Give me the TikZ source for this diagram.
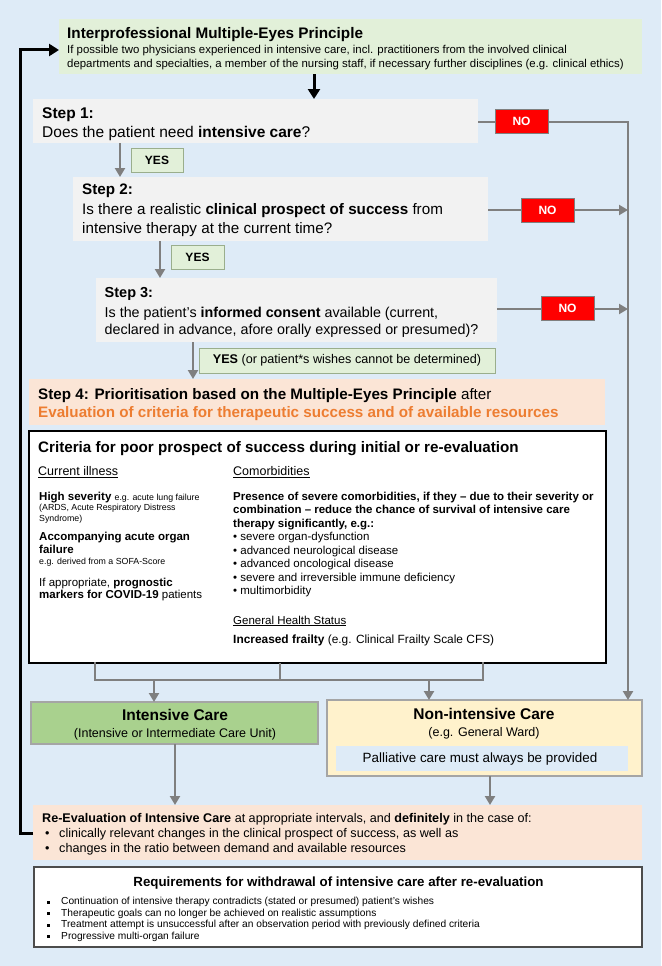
\documentclass[tikz,border=0pt]{standalone}
\usepackage{fontspec}
\setmainfont{Liberation Sans}
\usetikzlibrary{arrows.meta}
\definecolor{bg}{HTML}{DEEBF7}
\definecolor{topgreen}{HTML}{E2F0D9}
\definecolor{stepgray}{HTML}{F2F2F2}
\definecolor{yesfill}{HTML}{E2F0D9}
\definecolor{yesborder}{HTML}{9AAE8C}
\definecolor{nored}{HTML}{FF0000}
\definecolor{peach}{HTML}{FBE5D6}
\definecolor{orangetext}{HTML}{ED7D31}
\definecolor{icgreen}{HTML}{A9D18E}
\definecolor{nicyellow}{HTML}{FFF2CC}
\definecolor{arrowgray}{HTML}{7F7F7F}
\definecolor{boxborder}{HTML}{A5A5A5}
\newcommand\fs[2]{\fontsize{#1}{#2}\selectfont}
\newcommand\bx[7]{\node[box,#2,minimum width=#5-#3,minimum height=#6-#4] (#1) at (#3,#4) {#7};}
\newcommand\cb{\fs{11.5}{13.5}}
\newcommand\cs{\fs{8.8}{10.5}}
\begin{document}
\begin{tikzpicture}[x=1pt,y=-1pt,
  box/.style={inner sep=0pt,outer sep=0pt,anchor=north west},
  txt/.style={inner sep=0pt,anchor=base west},
  ctxt/.style={inner sep=0pt,anchor=base},
  garrow/.style={draw=arrowgray,line width=2.5pt,-{Triangle[width=10pt,length=9pt]}},
  gline/.style={draw=arrowgray,line width=2.5pt},
  barrow/.style={draw=black,line width=3pt,-{Triangle[width=12pt,length=10pt]}},
  nobox/.style={fill=nored,draw=arrowgray,line width=1pt,minimum width=53pt,minimum height=24pt,inner sep=0pt,text=white,font=\fs{12}{14}\bfseries},
  yesbox/.style={fill=yesfill,draw=yesborder,line width=1pt,minimum height=24pt,inner sep=0pt,font=\fs{12}{14}},
]
\useasboundingbox (0,0) rectangle (661,966);
\fill[bg] (0,0) rectangle (661,966);

% top box
\bx{top}{fill=topgreen}{59}{19}{642}{74}{}
\node[txt] (toptitle) at (67,38.5) {\fs{15.3}{18}\bfseries Interprofessional Multiple-Eyes Principle};
\node[txt] (topl1) at (67,53) {\fs{11.4}{14}If possible two physicians experienced in intensive care, incl. practitioners from the involved clinical};
\node[txt] (topl2) at (67,67) {\fs{11.4}{14}departments and specialties, a member of the nursing staff, if necessary further disciplines (e.g. clinical ethics)};

% step 1
\bx{s1}{fill=stepgray}{33}{99}{478}{143}{}
\node[txt] (s1a) at (42,118.5) {\fs{15.5}{19}\bfseries Step 1:};
\node[txt] (s1b) at (42,137.5) {\fs{15.5}{19}Does the patient need \textbf{intensive care}?};
\node[nobox] (no1) at (521.5,121) {NO};

% step 2
\bx{s2}{fill=stepgray}{73}{177}{488}{241}{}
\node[txt] (s2a) at (82,194.5) {\fs{15.2}{19}\bfseries Step 2:};
\node[txt] (s2b) at (82,214.5) {\fs{15.2}{19}Is there a realistic \textbf{clinical prospect of success} from};
\node[txt] (s2c) at (82,233.5) {\fs{15.2}{19}intensive therapy at the current time?};
\node[nobox] (no2) at (547.5,210) {NO};
\node[yesbox,minimum width=52pt] (yes1) at (157,160) {\bfseries YES};

% step 3
\bx{s3}{fill=stepgray}{96}{278}{497}{342}{}
\node[txt] (s3a) at (104.5,297.5) {\fs{14.5}{18}\bfseries Step 3:};
\node[txt] (s3b) at (104.5,317) {\fs{14.3}{18}Is the patient’s \textbf{informed consent} available (current,};
\node[txt] (s3c) at (104.5,334.5) {\fs{14.3}{18}declared in advance, afore orally expressed or presumed)?};
\node[nobox] (no3) at (567.5,308) {NO};
\node[yesbox,minimum width=53pt] (yes2) at (197.5,257.5) {\bfseries YES};
\node[yesbox,minimum width=296pt,minimum height=25pt,font=\fs{12.6}{14}] (yes3) at (347,360.5) {\textbf{YES} (or patient*s wishes cannot be determined)};

% step 4
\bx{s4}{fill=peach}{29}{379}{605}{425}{}
\node[txt] (s4a) at (38,399.5) {\fs{15.2}{18}\textbf{Step 4: Prioritisation based on the Multiple-Eyes Principle} after};
\node[txt,text=orangetext] (s4b) at (38,417.5) {\fs{15.2}{18}\bfseries Evaluation of criteria for therapeutic success and of available resources};

% criteria
\bx{crit}{fill=white,draw=black,line width=1.5pt}{29}{431}{606}{663}{}
\node[txt] (crtitle) at (38,452) {\fs{15.2}{19}\bfseries Criteria for poor prospect of success during initial or re-evaluation};
\node[txt] (curill) at (38,475.5) {\fs{12.5}{14}\underline{Current illness}};
\node[txt] (comorb) at (233,475.5) {\fs{12.5}{14}\underline{Comorbidities}};
\node[txt] (l1) at (39,500.5) {\cb\textbf{High severity} {\cs e.g. acute lung failure}};
\node[txt] (l2) at (39,510.5) {\cs(ARDS, Acute Respiratory Distress};
\node[txt] (l3) at (39,521.5) {\cs Syndrome)};
\node[txt] (l4) at (39,540.5) {\cb\bfseries Accompanying acute organ};
\node[txt] (l5) at (39,553.5) {\cb\bfseries failure};
\node[txt] (l6) at (39,564.5) {\cs e.g. derived from a SOFA-Score};
\node[txt] (l7) at (39,586.5) {\cb If appropriate, \textbf{prognostic}};
\node[txt] (l8) at (39,598.5) {\cb\textbf{markers for COVID-19} patients};
\node[txt] (r1) at (233,500.5) {\cb\bfseries Presence of severe comorbidities, if they – due to their severity or};
\node[txt] (r2) at (233,513.5) {\cb\bfseries combination – reduce the chance of survival of intensive care};
\node[txt] (r3) at (233,527.5) {\cb\bfseries therapy significantly, e.g.:};
\node[txt] (r4) at (233,540.5) {\cb• severe organ-dysfunction};
\node[txt] (r5) at (233,554) {\cb• advanced neurological disease};
\node[txt] (r6) at (233,567.5) {\cb• advanced oncological disease};
\node[txt] (r7) at (233,581) {\cb• severe and irreversible immune deficiency};
\node[txt] (r8) at (233,594.5) {\cb• multimorbidity};
\node[txt] (ghs) at (233,624) {\fs{11.5}{14}\underline{General Health Status}};
\node[txt] (frail) at (233,643) {\fs{11.9}{14}\textbf{Increased frailty} (e.g. Clinical Frailty Scale CFS)};

% outcome boxes
\bx{ic}{fill=icgreen,draw=boxborder,line width=1.2pt}{31}{702}{318}{744}{}
\node[ctxt] (ict) at (175,720.5) {\fs{15.5}{18}\bfseries Intensive Care};
\node[ctxt] (ics) at (175,737.5) {\fs{12.5}{14}(Intensive or Intermediate Care Unit)};
\bx{nic}{fill=nicyellow,draw=boxborder,line width=1.2pt}{327}{700}{642}{776}{}
\node[ctxt] (nict) at (484,719.5) {\fs{15.5}{18}\bfseries Non-intensive Care};
\node[ctxt] (nics) at (484,736.5) {\fs{12.5}{14}(e.g. General Ward)};
\bx{pal}{fill=bg}{336}{746}{628}{771}{}
\node[ctxt] (palt) at (480,762.5) {\fs{13.4}{15}Palliative care must always be provided};

% re-evaluation
\bx{re}{fill=peach}{33}{805}{642}{860}{}
\node[txt] (re1) at (42,822.5) {\fs{12.6}{15}\textbf{Re-Evaluation of Intensive Care} at appropriate intervals, and \textbf{definitely} in the case of:};
\node[txt] (reb1) at (45,837.5) {\fs{12.6}{15}•};
\node[txt] (re2) at (59,837.5) {\fs{12.6}{15}clinically relevant changes in the clinical prospect of success, as well as};
\node[txt] (reb2) at (45,852.5) {\fs{12.6}{15}•};
\node[txt] (re3) at (59,852.5) {\fs{12.6}{15}changes in the ratio between demand and available resources};

% requirements
\bx{req}{fill=white,draw=black!70,line width=1.2pt}{34}{867}{642}{947}{}
\node[ctxt] (reqt) at (338.5,886) {\fs{13.3}{16}\bfseries Requirements for withdrawal of intensive care after re-evaluation};
\foreach \yy/\tt [count=\i] in {904.5/{Continuation of intensive therapy contradicts (stated or presumed) patient's wishes},
  916/{Therapeutic goals can no longer be achieved on realistic assumptions},
  927.7/{Treatment attempt is unsuccessful after an observation period with previously defined criteria},
  939.3/{Progressive multi-organ failure}}{
  \fill[black] (47,\yy-4) rectangle (50,\yy-1);
  \node[txt] (req\i) at (61,\yy) {\fs{10.2}{12}\tt};
}

% connectors
\coordinate (topout) at (314,74);
\coordinate (s1in) at (314,99);
\draw[barrow] (topout) -- (s1in);
\coordinate (fb1) at (20,833);
\coordinate (fb2) at (20,50);
\draw[draw=black,line width=3pt,-{Triangle[width=12pt,length=10pt]}] (re.west |- fb1) -- (fb1) -- (fb2) -- (top.west |- fb2);

\coordinate (rc1) at (628,122);
\draw[gline] (s1.east |- rc1) -- (no1.west |- rc1);
\draw[garrow] (no1.east |- rc1) -- (rc1) -- (nic.north -| rc1);
\coordinate (rc2) at (628,210);
\draw[gline] (s2.east |- rc2) -- (no2.west |- rc2);
\draw[garrow] (no2.east |- rc2) -- (rc2);
\coordinate (rc3) at (628,309);
\draw[gline] (s3.east |- rc3) -- (no3.west |- rc3);
\draw[garrow] (no3.east |- rc3) -- (rc3);

\coordinate (y1x) at (120,0);
\draw[garrow] (s1.south -| y1x) -- (s2.north -| y1x);
\coordinate (y2x) at (160,0);
\draw[garrow] (s2.south -| y2x) -- (s3.north -| y2x);
\coordinate (y3x) at (193,0);
\draw[garrow] (s3.south -| y3x) -- (s4.north -| y3x);

\coordinate (bk) at (0,680);
\coordinate (bx1) at (95,0);
\coordinate (bx2) at (280,0);
\coordinate (bx3) at (483,0);
\draw[gline,line cap=rect] (crit.south -| bx1) -- (bk -| bx1) -- (bk -| bx3) -- (crit.south -| bx3);
\draw[gline] (crit.south -| bx2) -- (bk -| bx2);
\coordinate (ax1) at (154,0);
\coordinate (ax2) at (429,0);
\draw[garrow] (bk -| ax1) -- (ic.north -| ax1);
\draw[garrow] (bk -| ax2) -- (nic.north -| ax2);
\coordinate (ax3) at (175,0);
\coordinate (ax4) at (490,0);
\draw[garrow] (ic.south -| ax3) -- (re.north -| ax3);
\draw[garrow] (nic.south -| ax4) -- (re.north -| ax4);
\end{tikzpicture}
\end{document}
